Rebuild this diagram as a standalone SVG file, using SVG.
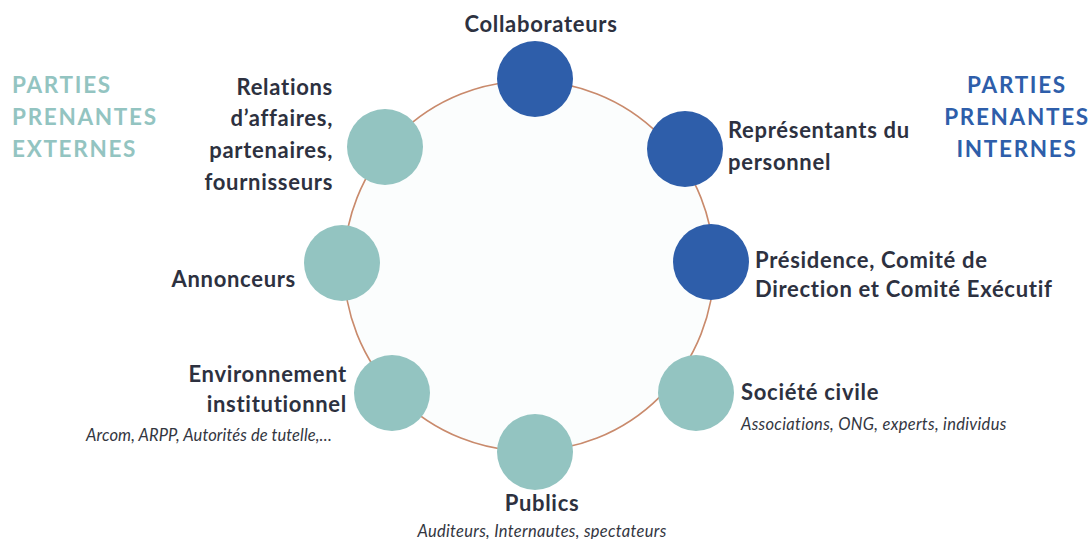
<svg xmlns="http://www.w3.org/2000/svg" width="1091" height="539" viewBox="0 0 1091 539">
<style>
.lbl{font-family:Lato,"Liberation Sans",sans-serif;font-weight:bold;font-size:22px;letter-spacing:0.7px;fill:#2D3140}
.sub{font-family:Lato,"Liberation Sans",sans-serif;font-style:italic;font-size:16.5px;letter-spacing:0.3px;fill:#33363F}
.ext{font-family:Lato,"Liberation Sans",sans-serif;font-weight:bold;font-size:22.5px;fill:#93C4C1;letter-spacing:1.7px}
.int{font-family:Lato,"Liberation Sans",sans-serif;font-weight:bold;font-size:22.5px;fill:#2E5EAA;letter-spacing:1.7px}
.blue{fill:#2E5EAA}
.teal{fill:#93C4C1}
</style>
<rect width="1091" height="539" fill="#FFFFFF"/>
<g id="connectors">
<circle cx="529" cy="266" r="185" fill="#FBFDFD" stroke="#C98A6C" stroke-width="1.6"/>
</g>
<g id="legend-externes">
<text class="ext" x="12" y="93">PARTIES</text>
<text class="ext" x="12" y="125">PRENANTES</text>
<text class="ext" x="12" y="157">EXTERNES</text>
</g>
<g id="legend-internes">
<text class="int" x="1017" y="93" text-anchor="middle">PARTIES</text>
<text class="int" x="1017" y="125" text-anchor="middle">PRENANTES</text>
<text class="int" x="1017" y="157" text-anchor="middle">INTERNES</text>
</g>
<g id="node-collaborateurs">
<circle class="blue" cx="535" cy="79" r="38"/>
<text class="lbl" x="541" y="32" text-anchor="middle">Collaborateurs</text>
</g>
<g id="node-representants">
<circle class="blue" cx="685" cy="149" r="38"/>
<text class="lbl" x="728" y="138">Représentants du</text>
<text class="lbl" x="728" y="170">personnel</text>
</g>
<g id="node-presidence">
<circle class="blue" cx="711" cy="262" r="38"/>
<text class="lbl" x="755" y="268">Présidence, Comité de</text>
<text class="lbl" x="755" y="297">Direction et Comité Exécutif</text>
</g>
<g id="node-societe">
<circle class="teal" cx="696" cy="393" r="38"/>
<text class="lbl" x="741" y="400">Société civile</text>
<text class="sub" x="741" y="430">Associations, ONG, experts, individus</text>
</g>
<g id="node-publics">
<circle class="teal" cx="535" cy="452" r="38"/>
<text class="lbl" x="542" y="511" text-anchor="middle">Publics</text>
<text class="sub" x="542" y="537" text-anchor="middle">Auditeurs, Internautes, spectateurs</text>
</g>
<g id="node-environnement">
<circle class="teal" cx="392" cy="393" r="38"/>
<text class="lbl" x="347" y="382" text-anchor="end">Environnement</text>
<text class="lbl" x="347" y="412" text-anchor="end">institutionnel</text>
<text class="sub" x="332" y="441" text-anchor="end" style="letter-spacing:0.1px">Arcom, ARPP, Autorités de tutelle,…</text>
</g>
<g id="node-annonceurs">
<circle class="teal" cx="342" cy="263" r="38"/>
<text class="lbl" x="296" y="287" text-anchor="end">Annonceurs</text>
</g>
<g id="node-relations">
<circle class="teal" cx="385" cy="147" r="38"/>
<text class="lbl" x="333" y="95" text-anchor="end">Relations</text>
<text class="lbl" x="333" y="126" text-anchor="end">d’affaires,</text>
<text class="lbl" x="333" y="158" text-anchor="end">partenaires,</text>
<text class="lbl" x="333" y="190" text-anchor="end">fournisseurs</text>
</g>
</svg>
